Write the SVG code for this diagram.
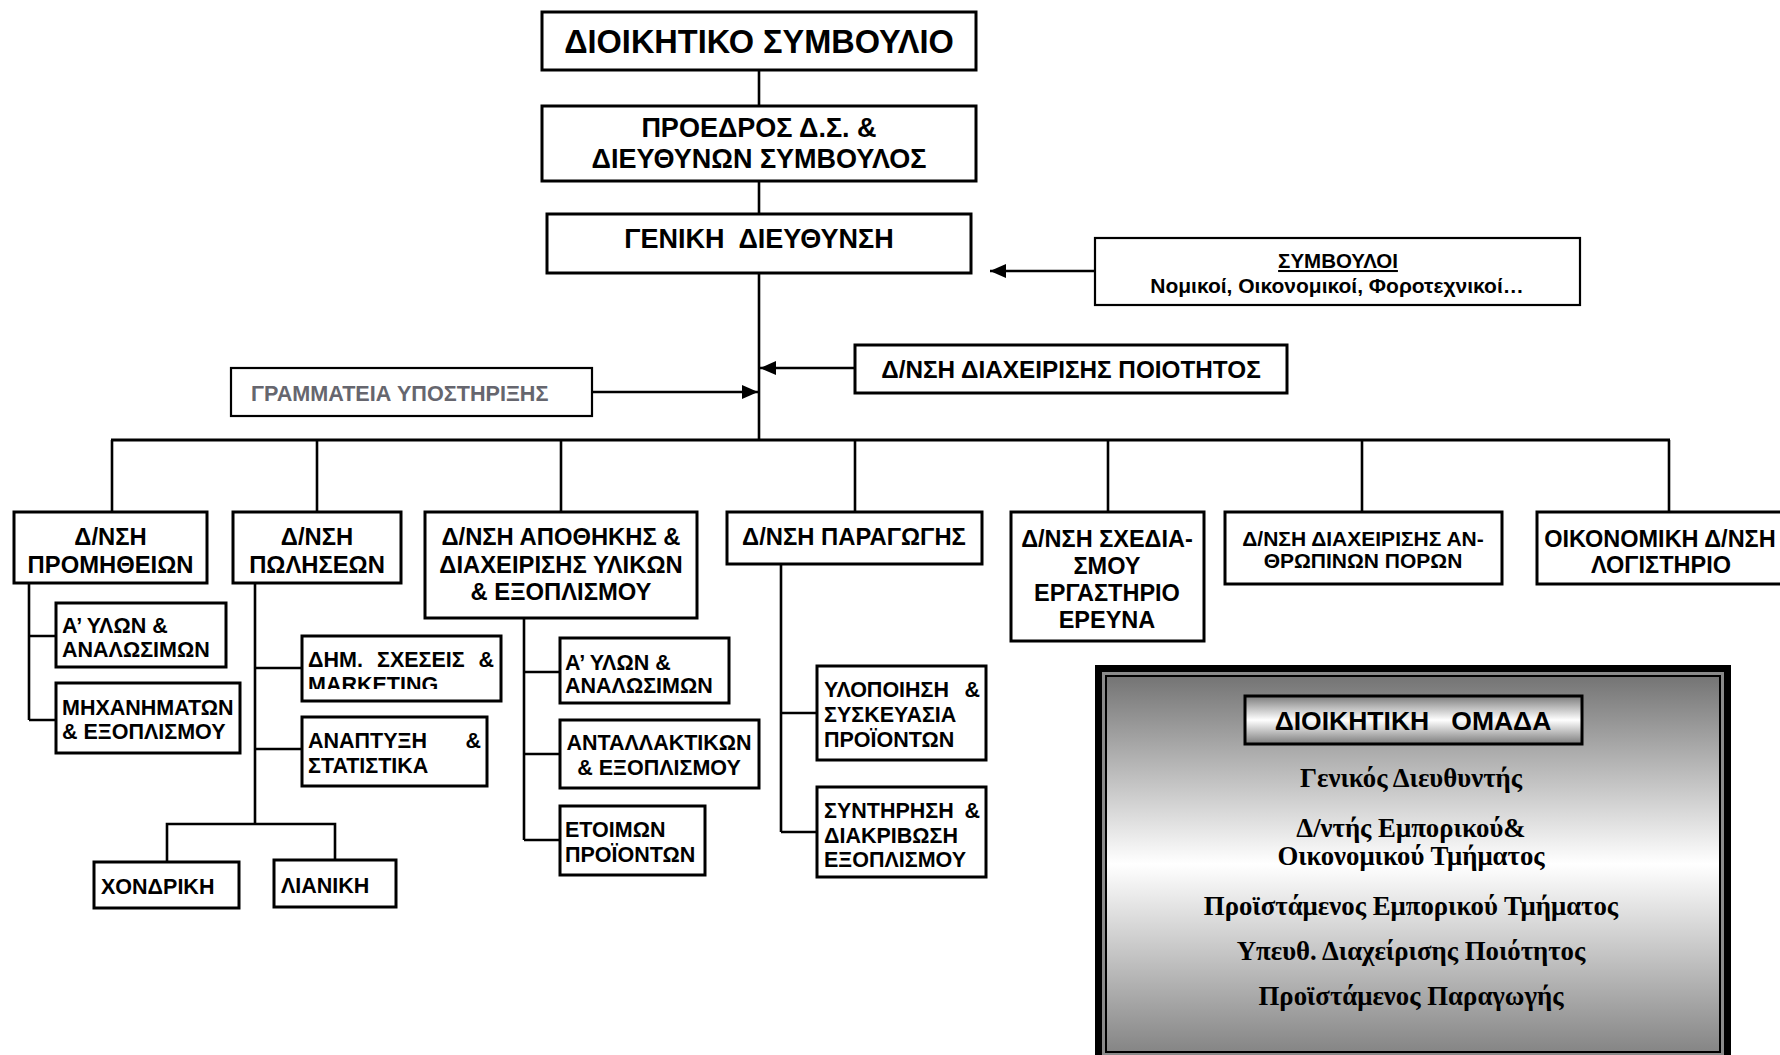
<svg xmlns="http://www.w3.org/2000/svg" width="1780" height="1055" viewBox="0 0 1780 1055">
<style>
.box{fill:#fff;stroke:#000;stroke-width:3}
.thin{stroke-width:2.2}
.t{font-family:"Liberation Sans",Arial,sans-serif;font-weight:bold;fill:#000}
.c{text-anchor:middle}
.s{font-size:21.5px}
.d{font-size:23.8px}
.conn line,.conn path{stroke:#000;stroke-width:2.6;fill:none}
.serif{font-family:"Liberation Serif","Times New Roman",serif;font-weight:bold;text-anchor:middle;font-size:26.8px;fill:#000}
.pre{white-space:pre}
</style>
<defs>
<marker id="arr" markerUnits="userSpaceOnUse" markerWidth="16" markerHeight="14" refX="16" refY="7" orient="auto">
<path d="M0,0 L16,7 L0,14 z" fill="#000"/>
</marker>
<linearGradient id="frameGrad" x1="0" y1="0" x2="0" y2="1">
<stop offset="0" stop-color="#747474"/>
<stop offset="0.5" stop-color="#ffffff"/>
<stop offset="1" stop-color="#858585"/>
</linearGradient>
<linearGradient id="titleGrad" x1="0" y1="0" x2="0" y2="1">
<stop offset="0" stop-color="#7c7c7c"/>
<stop offset="0.5" stop-color="#ffffff"/>
<stop offset="1" stop-color="#7c7c7c"/>
</linearGradient>
<clipPath id="clipMk"><rect x="302" y="636" width="199" height="53"/></clipPath>
</defs>

<g id="connectors" class="conn">
<line x1="759" y1="70" x2="759" y2="106"/>
<line x1="759" y1="181" x2="759" y2="214"/>
<line x1="759" y1="273" x2="759" y2="440"/>
<line x1="111" y1="440" x2="1670" y2="440" style="stroke-width:3"/>
<line x1="112" y1="440" x2="112" y2="512"/>
<line x1="317" y1="440" x2="317" y2="512"/>
<line x1="561" y1="440" x2="561" y2="512"/>
<line x1="855" y1="440" x2="855" y2="512"/>
<line x1="1108" y1="440" x2="1108" y2="512"/>
<line x1="1362" y1="440" x2="1362" y2="512"/>
<line x1="1669" y1="440" x2="1669" y2="512"/>
<line x1="1095" y1="271" x2="990" y2="271" marker-end="url(#arr)"/>
<line x1="855" y1="368" x2="760" y2="368" marker-end="url(#arr)"/>
<line x1="592" y1="392" x2="758" y2="392" marker-end="url(#arr)"/>
<path d="M29,583 V720 M29,636 H56 M29,720 H56"/>
<path d="M255,583 V824 M255,668 H302 M255,749 H302 M167,862 V824 H335 V860"/>
<path d="M524,618 V840 M524,672 H560 M524,754 H560 M524,840 H560"/>
<path d="M781,564 V832 M781,713 H817 M781,832 H817"/>
</g>

<g id="n-board">
<rect class="box" x="542" y="12" width="434" height="58"/>
<text class="t c" x="759" y="53" font-size="32.5">ΔΙΟΙΚΗΤΙΚΟ ΣΥΜΒΟΥΛΙΟ</text>
</g>
<g id="n-ceo">
<rect class="box" x="542" y="106" width="434" height="75"/>
<text class="t c" x="759" y="137" font-size="27">ΠΡΟΕΔΡΟΣ Δ.Σ. &amp;</text>
<text class="t c" x="759" y="168" font-size="27">ΔΙΕΥΘΥΝΩΝ ΣΥΜΒΟΥΛΟΣ</text>
</g>
<g id="n-gm">
<rect class="box" x="547" y="214" width="424" height="59"/>
<text class="t c pre" x="759" y="248" font-size="27">ΓΕΝΙΚΗ  ΔΙΕΥΘΥΝΣΗ</text>
</g>
<g id="n-advisors">
<rect class="box thin" x="1095" y="238" width="485" height="67"/>
<text class="t c" x="1338" y="268" font-size="20.5" text-decoration="underline">ΣΥΜΒΟΥΛΟΙ</text>
<text class="t c" x="1337" y="293" font-size="21">Νομικοί, Οικονομικοί, Φοροτεχνικοί…</text>
</g>
<g id="n-quality">
<rect class="box" x="855" y="345" width="432" height="48"/>
<text class="t c" x="1071" y="378" font-size="24.3">Δ/ΝΣΗ ΔΙΑΧΕΙΡΙΣΗΣ ΠΟΙΟΤΗΤΟΣ</text>
</g>
<g id="n-secretariat">
<rect class="box thin" x="231" y="368" width="361" height="48"/>
<text class="t" x="251" y="401" font-size="21.6" style="fill:#66666e">ΓΡΑΜΜΑΤΕΙΑ ΥΠΟΣΤΗΡΙΞΗΣ</text>
</g>

<g id="n-procurement">
<rect class="box" x="14" y="512" width="193" height="71"/>
<text class="t c d" x="110.5" y="545">Δ/ΝΣΗ</text>
<text class="t c d" x="110.5" y="573">ΠΡΟΜΗΘΕΙΩΝ</text>
</g>
<g id="n-proc-raw">
<rect class="box" x="56" y="603" width="170" height="64"/>
<text class="t s" x="62" y="633">Α’ ΥΛΩΝ &amp;</text>
<text class="t s" x="62" y="657">ΑΝΑΛΩΣΙΜΩΝ</text>
</g>
<g id="n-proc-mach">
<rect class="box" x="56" y="683" width="184" height="70"/>
<text class="t s" x="62" y="715">ΜΗΧΑΝΗΜΑΤΩΝ</text>
<text class="t s" x="62" y="739">&amp; ΕΞΟΠΛΙΣΜΟΥ</text>
</g>

<g id="n-sales">
<rect class="box" x="233" y="512" width="168" height="71"/>
<text class="t c d" x="317" y="545">Δ/ΝΣΗ</text>
<text class="t c d" x="317" y="573">ΠΩΛΗΣΕΩΝ</text>
</g>
<g id="n-sales-pr">
<rect class="box" x="302" y="636" width="199" height="65"/>
<text class="t s" y="667"><tspan x="308">ΔΗΜ.</tspan><tspan x="377">ΣΧΕΣΕΙΣ</tspan><tspan x="494" text-anchor="end">&amp;</tspan></text>
<text class="t s" x="308" y="692" clip-path="url(#clipMk)">MARKETING</text>
</g>
<g id="n-sales-dev">
<rect class="box" x="302" y="717" width="185" height="69"/>
<text class="t s" y="748"><tspan x="308">ΑΝΑΠΤΥΞΗ</tspan><tspan x="481" text-anchor="end">&amp;</tspan></text>
<text class="t s" x="308" y="773">ΣΤΑΤΙΣΤΙΚΑ</text>
</g>
<g id="n-wholesale">
<rect class="box" x="94" y="862" width="145" height="46"/>
<text class="t s" x="101" y="894">ΧΟΝΔΡΙΚΗ</text>
</g>
<g id="n-retail">
<rect class="box" x="274" y="860" width="122" height="47"/>
<text class="t s" x="281" y="893">ΛΙΑΝΙΚΗ</text>
</g>

<g id="n-warehouse">
<rect class="box" x="425" y="512" width="272" height="106"/>
<text class="t c d" x="561" y="545">Δ/ΝΣΗ ΑΠΟΘΗΚΗΣ &amp;</text>
<text class="t c d" x="561" y="573">ΔΙΑΧΕΙΡΙΣΗΣ ΥΛΙΚΩΝ</text>
<text class="t c d" x="561" y="600">&amp; ΕΞΟΠΛΙΣΜΟΥ</text>
</g>
<g id="n-wh-raw">
<rect class="box" x="560" y="638" width="169" height="65"/>
<text class="t s" x="565" y="670">Α’ ΥΛΩΝ &amp;</text>
<text class="t s" x="565" y="693">ΑΝΑΛΩΣΙΜΩΝ</text>
</g>
<g id="n-wh-parts">
<rect class="box" x="560" y="720" width="199" height="68"/>
<text class="t c s" x="659" y="750">ΑΝΤΑΛΛΑΚΤΙΚΩΝ</text>
<text class="t c s" x="659" y="775">&amp; ΕΞΟΠΛΙΣΜΟΥ</text>
</g>
<g id="n-wh-finished">
<rect class="box" x="560" y="806" width="145" height="69"/>
<text class="t s" x="565" y="837">ΕΤΟΙΜΩΝ</text>
<text class="t s" x="565" y="862">ΠΡΟΪΟΝΤΩΝ</text>
</g>

<g id="n-production">
<rect class="box" x="727" y="512" width="255" height="52"/>
<text class="t c d" x="854" y="545">Δ/ΝΣΗ ΠΑΡΑΓΩΓΗΣ</text>
</g>
<g id="n-prod-pack">
<rect class="box" x="817" y="666" width="169" height="94"/>
<text class="t s" y="697"><tspan x="824">ΥΛΟΠΟΙΗΣΗ</tspan><tspan x="980" text-anchor="end">&amp;</tspan></text>
<text class="t s" x="824" y="722">ΣΥΣΚΕΥΑΣΙΑ</text>
<text class="t s" x="824" y="747">ΠΡΟΪΟΝΤΩΝ</text>
</g>
<g id="n-prod-maint">
<rect class="box" x="817" y="787" width="169" height="90"/>
<text class="t s" y="818"><tspan x="824">ΣΥΝΤΗΡΗΣΗ</tspan><tspan x="980" text-anchor="end">&amp;</tspan></text>
<text class="t s" x="824" y="843">ΔΙΑΚΡΙΒΩΣΗ</text>
<text class="t s" x="824" y="867">ΕΞΟΠΛΙΣΜΟΥ</text>
</g>

<g id="n-design">
<rect class="box" x="1011" y="512" width="193" height="129"/>
<text class="t c" x="1107" y="547" font-size="23.5">Δ/ΝΣΗ ΣΧΕΔΙΑ-</text>
<text class="t c" x="1107" y="574" font-size="23.5">ΣΜΟΥ</text>
<text class="t c" x="1107" y="601" font-size="23.5">ΕΡΓΑΣΤΗΡΙΟ</text>
<text class="t c" x="1107" y="628" font-size="23.5">ΕΡΕΥΝΑ</text>
</g>
<g id="n-hr">
<rect class="box" x="1225" y="512" width="277" height="72"/>
<text class="t c" x="1363" y="546" font-size="21">Δ/ΝΣΗ ΔΙΑΧΕΙΡΙΣΗΣ ΑΝ-</text>
<text class="t c" x="1363" y="568" font-size="21">ΘΡΩΠΙΝΩΝ ΠΟΡΩΝ</text>
</g>
<g id="n-finance">
<rect class="box" x="1537" y="512" width="270" height="72"/>
<text class="t c" x="1660" y="547" font-size="23.5">ΟΙΚΟΝΟΜΙΚΗ Δ/ΝΣΗ</text>
<text class="t c" x="1661" y="573" font-size="23.5">ΛΟΓΙΣΤΗΡΙΟ</text>
</g>

<g id="n-mgmt-team">
<rect x="1098.5" y="668.5" width="629" height="400" fill="#8a8a8a" stroke="#000" stroke-width="7"/>
<rect x="1106" y="676" width="614" height="376" fill="url(#frameGrad)" stroke="#000" stroke-width="2"/>
<rect x="1245" y="696" width="337" height="48" fill="url(#titleGrad)" stroke="#000" stroke-width="3"/>
<text class="t c pre" x="1413" y="730" font-size="26.5">ΔΙΟΙΚΗΤΙΚΗ   ΟΜΑΔΑ</text>
<text class="serif" x="1411" y="787">Γενικός Διευθυντής</text>
<text class="serif" x="1411" y="837">Δ/ντής Εμπορικού&amp;</text>
<text class="serif" x="1411" y="865">Οικονομικού Τμήματος</text>
<text class="serif" x="1411" y="915">Προϊστάμενος Εμπορικού Τμήματος</text>
<text class="serif" x="1411" y="960">Υπευθ. Διαχείρισης Ποιότητος</text>
<text class="serif" x="1411" y="1005">Προϊστάμενος Παραγωγής</text>
</g>
</svg>
